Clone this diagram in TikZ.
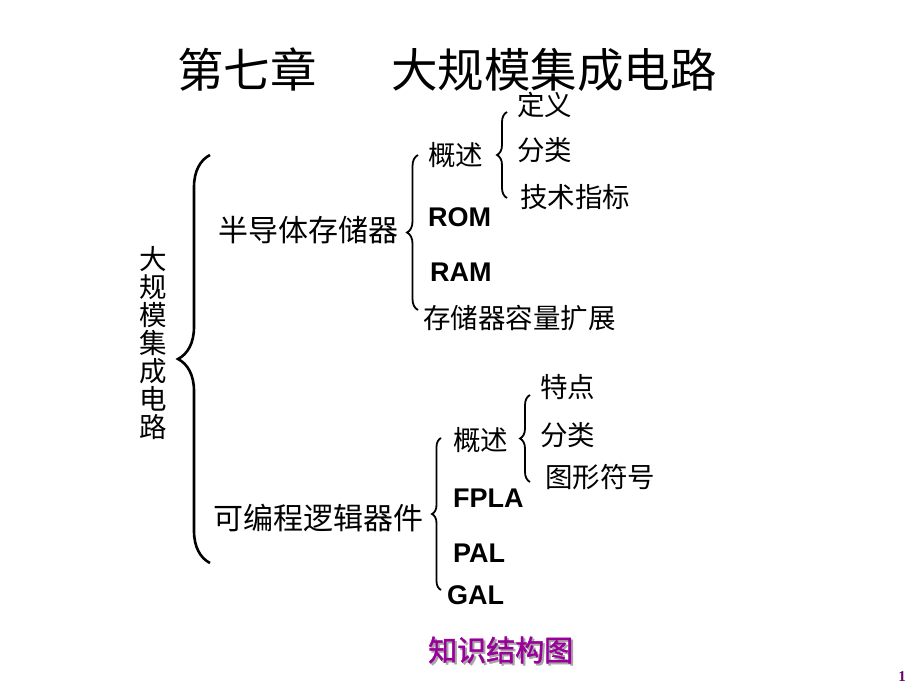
\documentclass[tikz,border=0pt]{standalone}
\usepackage{fontspec}
\setmainfont{Noto Sans CJK SC}
\newfontfamily\latfont{Liberation Sans}
\newfontfamily\numfont{Liberation Serif}
\newfontfamily\heavyfont[FakeBold=1.5]{Noto Sans CJK SC}
\usetikzlibrary{decorations.pathreplacing}
\definecolor{kpurple}{HTML}{990099}
\tikzset{
  title/.style={anchor=west,inner sep=0pt,font=\fontsize{46.5}{50}\selectfont},
  head/.style={anchor=west,inner sep=0pt,font=\fontsize{30}{33}\selectfont},
  item/.style={anchor=west,inner sep=0pt,font=\fontsize{27.5}{30}\selectfont},
  code/.style={anchor=west,inner sep=0pt,font=\latfont\bfseries\fontsize{27}{30}\selectfont},
  curly/.style={decorate,decoration={brace,amplitude=#1},line width=1.8pt},
}
\begin{document}
\begin{tikzpicture}[x=1pt,y=-1pt]
\useasboundingbox (0,0) rectangle (920,690);

\node[title] (chap) at (177,70) {第七章};
\node[title] (topic) at (391,70) {大规模集成电路};

\node[inner sep=0pt,align=center,font=\fontsize{27.5}{28}\selectfont] (vert) at (153,343)
  {大\\规\\模\\集\\成\\电\\路};

\foreach \name/\x/\y/\txt in {mem/218/230/半导体存储器,pld/213/518/可编程逻辑器件}
{
    \node[head] (\name) at (\x,\y) {\txt};
}

\foreach \name/\x/\y/\txt in {ovA/428/155/概述,def/517/105/定义,clsA/517/150/分类,spec/520/197/技术指标,
  expand/423/318/存储器容量扩展,ovB/453/440/概述,feat/540/387/特点,clsB/540/435/分类,sym/545/477/图形符号}
{
    \node[item] (\name) at (\x,\y) {\txt};
}

\foreach \name/\x/\y/\txt in {rom/428/217/ROM,ram/430/272/RAM,fpla/453/498/FPLA,pal/453/553/PAL,gal/447/595/GAL}
{
    \node[code] (\name) at (\x,\y) {\txt};
}

\draw[curly=32,line width=2.6pt] (210,563)--(210,155);
\draw[curly=11] (418,310)--(418,155);
\draw[curly=10] (507,198)--(507,112);
\draw[curly=9] (441,590)--(441,438);
\draw[curly=10] (530,482)--(530,395);

\node[anchor=west,inner sep=0pt,text=gray!70,font=\heavyfont\fontsize{29}{32}\selectfont] (mapshadow) at (430,652) {知识结构图};
\node[anchor=west,inner sep=0pt,text=kpurple,font=\heavyfont\fontsize{29}{32}\selectfont] (map) at (428,650) {知识结构图};

\node[inner sep=0pt,text=kpurple!70!black,font=\numfont\bfseries\fontsize{15}{16}\selectfont] (pageno) at (902,677) {1};
\end{tikzpicture}
\end{document}
